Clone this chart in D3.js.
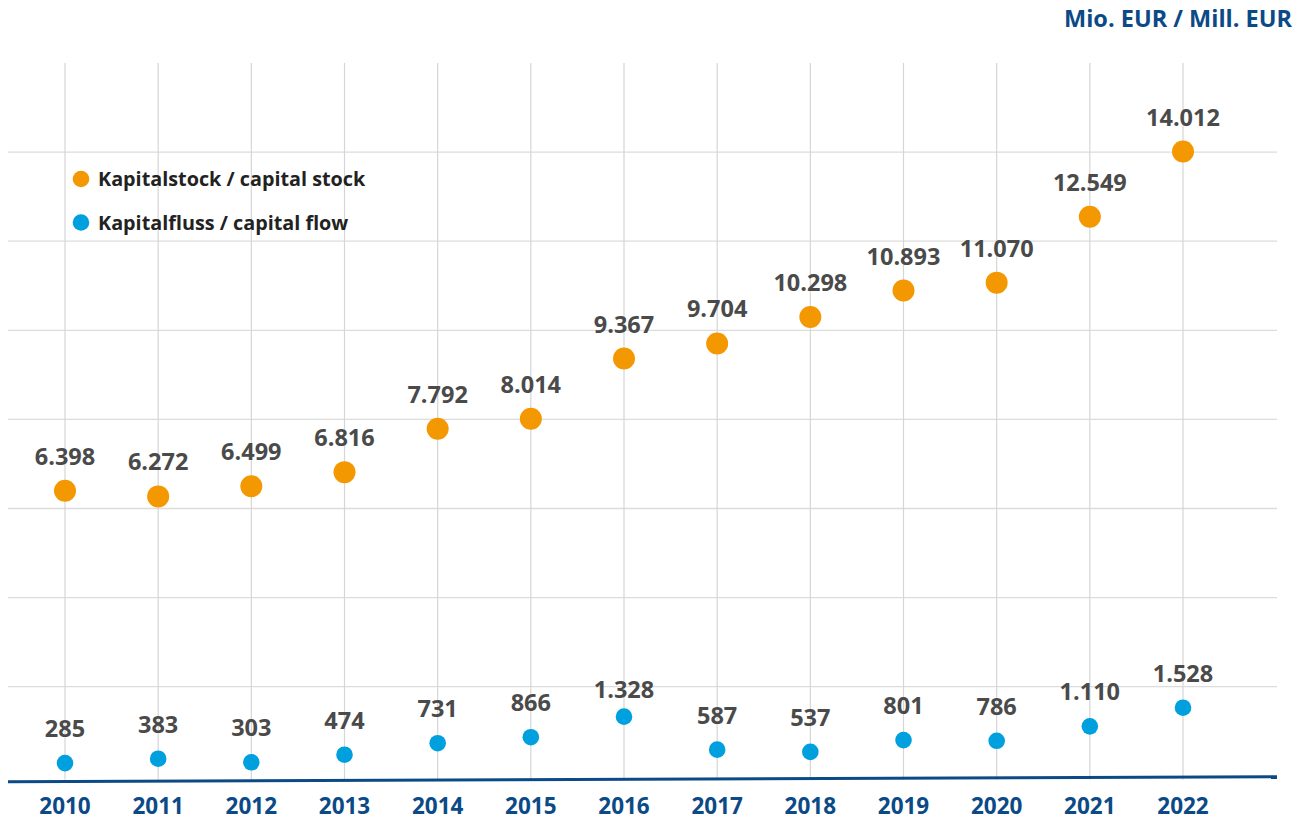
<!DOCTYPE html>
<html><head><meta charset="utf-8">
<script src="https://cdn.jsdelivr.net/npm/d3@7/dist/d3.min.js"></script>
<style>body{margin:0;background:#fff}svg{display:block}text{font-family:"Open Sans",Lato,sans-serif;font-weight:700}</style>
</head><body><svg id="c" width="1306" height="820"></svg>
<script>
const years = ["2010","2011","2012","2013","2014","2015","2016","2017","2018","2019","2020","2021","2022"];
const capitalStock = [6398,6272,6499,6816,7792,8014,9367,9704,10298,10893,11070,12549,14012];
const capitalFlow = [285,383,303,474,731,866,1328,587,537,801,786,1110,1528];
const gridTicks = [2000,4000,6000,8000,10000,12000,14000];
const seriesNames = ["Kapitalstock / capital stock","Kapitalfluss / capital flow"];
const unitLabel = "Mio. EUR / Mill. EUR";

const svg = d3.select("#c");
const x = d3.scalePoint().domain(years).range([65,1183]);
const y = d3.scaleLinear().domain([0,16000]).range([775.8,63]);
const fmt = v => d3.format(",")(v).replace(/,/g,".");
const orange = "#F39800", blue = "#00A0DF";

// horizontal gridlines
svg.append("g").selectAll("line").data(gridTicks).join("line")
  .attr("x1",8).attr("x2",1277).attr("y1",d=>y(d)).attr("y2",d=>y(d))
  .attr("stroke","#dcdcdc").attr("stroke-width",1.3);
// vertical gridlines
svg.append("g").selectAll("line").data(years).join("line")
  .attr("x1",d=>x(d)).attr("x2",d=>x(d)).attr("y1",y(16000)).attr("y2",y(0)+4)
  .attr("stroke","#d6d6d6").attr("stroke-width",1.2);

// baseline (slightly sloped as in reference)
svg.append("line").attr("x1",8).attr("x2",1277).attr("y1",y(0)+6).attr("y2",y(0)+1)
  .attr("stroke","#0b4a86").attr("stroke-width",3);

// x axis labels
svg.append("g").selectAll("text").data(years).join("text")
  .attr("x",d=>x(d)).attr("y",814).attr("text-anchor","middle")
  .attr("font-size",22.5).attr("fill","#0b4a86").text(d=>d);

// unit label
svg.append("text").attr("x",1292).attr("y",27).attr("text-anchor","end")
  .attr("font-size",23.5).attr("fill","#0b4a86").text(unitLabel);

// capital stock
svg.append("g").selectAll("circle").data(capitalStock).join("circle")
  .attr("cx",(d,i)=>x(years[i])).attr("cy",d=>y(d)).attr("r",11).attr("fill",orange);
svg.append("g").selectAll("text").data(capitalStock).join("text")
  .attr("x",(d,i)=>x(years[i])).attr("y",d=>y(d)-26).attr("text-anchor","middle")
  .attr("font-size",23.5).attr("fill","#4a4a4a").text(fmt);

// capital flow
svg.append("g").selectAll("circle").data(capitalFlow).join("circle")
  .attr("cx",(d,i)=>x(years[i])).attr("cy",d=>y(d)).attr("r",8.3).attr("fill",blue);
svg.append("g").selectAll("text").data(capitalFlow).join("text")
  .attr("x",(d,i)=>x(years[i])).attr("y",(d,i)=>y(d)-(i===6?19:26)).attr("text-anchor","middle")
  .attr("font-size",23.5).attr("fill","#4a4a4a").text(fmt);

// legend
const lg = svg.append("g");
[orange,blue].forEach((c,i)=>{
  lg.append("circle").attr("cx",81).attr("cy",179+i*43.5).attr("r",8.3).attr("fill",c);
  lg.append("text").attr("x",98).attr("y",186+i*43.5).attr("font-size",19.8).attr("fill","#222").text(seriesNames[i]);
});
</script></body></html>
